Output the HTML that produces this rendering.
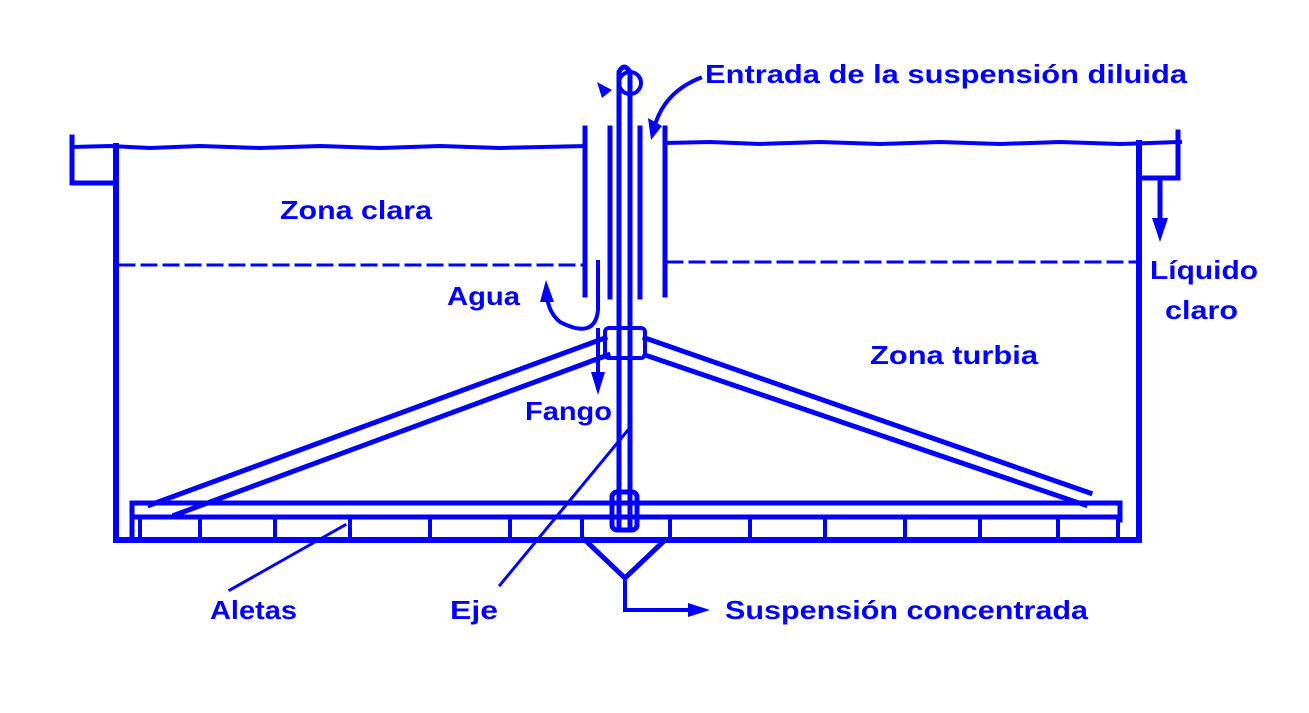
<!DOCTYPE html>
<html><head><style>
html,body{margin:0;padding:0;background:#fff;}
svg{display:block;}
text{font-family:"Liberation Sans",Arial,sans-serif;font-weight:bold;font-size:26px;fill:#0000ff;}
</style></head><body>
<svg width="1309" height="713" viewBox="0 0 1309 713" xmlns="http://www.w3.org/2000/svg">
<g stroke="#0000ff" fill="none" stroke-width="5" stroke-linecap="square">
<path d="M72 147 L110 146 L150 148 L200 146 L260 148 L320 146 L380 148 L440 146 L500 148 L585 146" stroke-width="4"/>
<path d="M665 143 L710 142 L760 144 L820 142 L880 144 L940 142 L1000 144 L1060 142 L1120 144 L1180 142" stroke-width="4"/>
<path d="M72 137 V183 H116"/>
<path d="M116 146 V540 H1139 V143" stroke-width="6"/>
<path d="M1139 178 H1178 V132"/>
<path d="M1160 180 V222"/>
<path d="M120 265 H585" stroke-dasharray="14 8" stroke-width="3"/>
<path d="M668 262 H1135" stroke-dasharray="14 8" stroke-width="3"/>
<path d="M585 128 V295"/>
<path d="M665 128 V295"/>
<path d="M610 128 V297"/>
<path d="M640 128 V297"/>
<path d="M619 530 V72 Q624 62 630 72 V530" stroke-width="5"/>
<circle cx="630" cy="83" r="11" stroke-width="4"/>
<path d="M598 262 V310 Q595 340 560 322 Q548 312 547 295" stroke-width="4"/>
<path d="M598 330 V375" stroke-width="4"/>
<rect x="605" y="328" width="40" height="30" rx="4" stroke-width="4"/>
<path d="M605 338 L150 505 M608 355 L175 515" stroke-width="5"/>
<path d="M645 338 L1090 493 M645 355 L1085 505" stroke-width="5"/>
<path d="M132 503 H1120 V520 M132 503 V540 M132 517 H1120" stroke-width="5"/>
<rect x="612" y="492" width="25" height="38" rx="5" stroke-width="5"/>
<path d="M140 517 V538 M200 517 V538 M275 517 V538 M350 517 V538 M430 517 V538 M510 517 V538 M582 517 V538 M670 517 V538 M750 517 V538 M825 517 V538 M905 517 V538 M980 517 V538 M1058 517 V538 M1118 517 V538" stroke-width="4"/>
<path d="M585 540 L625 578 L665 540" stroke-width="5"/>
<path d="M625 578 V610 H690" stroke-width="4"/>
<path d="M628 430 L500 585" stroke-width="3"/>
<path d="M345 525 L230 590" stroke-width="3"/>
<path d="M700 78 Q665 92 655 125" stroke-width="4"/>
</g>
<g fill="#0000ff">
<polygon points="1152,218 1168,218 1160,242"/>
<polygon points="540,302 554,302 546,280"/>
<polygon points="591,372 605,372 598,395"/>
<polygon points="688,603 688,617 710,610"/>
<polygon points="648,118 662,126 651,140"/>
<polygon points="597,82 612,90 602,98"/>
</g>
<text x="705" y="83" textLength="482" lengthAdjust="spacingAndGlyphs">Entrada de la suspensión diluida</text>
<text x="280" y="219" textLength="152" lengthAdjust="spacingAndGlyphs">Zona clara</text>
<text x="1150" y="279" textLength="108" lengthAdjust="spacingAndGlyphs">Líquido</text>
<text x="1165" y="319" textLength="73" lengthAdjust="spacingAndGlyphs">claro</text>
<text x="870" y="364" textLength="168" lengthAdjust="spacingAndGlyphs">Zona turbia</text>
<text x="447" y="305" textLength="73" lengthAdjust="spacingAndGlyphs">Agua</text>
<text x="525" y="420" textLength="87" lengthAdjust="spacingAndGlyphs">Fango</text>
<text x="210" y="619" textLength="87" lengthAdjust="spacingAndGlyphs">Aletas</text>
<text x="450" y="619" textLength="48" lengthAdjust="spacingAndGlyphs">Eje</text>
<text x="725" y="619" textLength="363" lengthAdjust="spacingAndGlyphs">Suspensión concentrada</text>
</svg>
</body></html>
